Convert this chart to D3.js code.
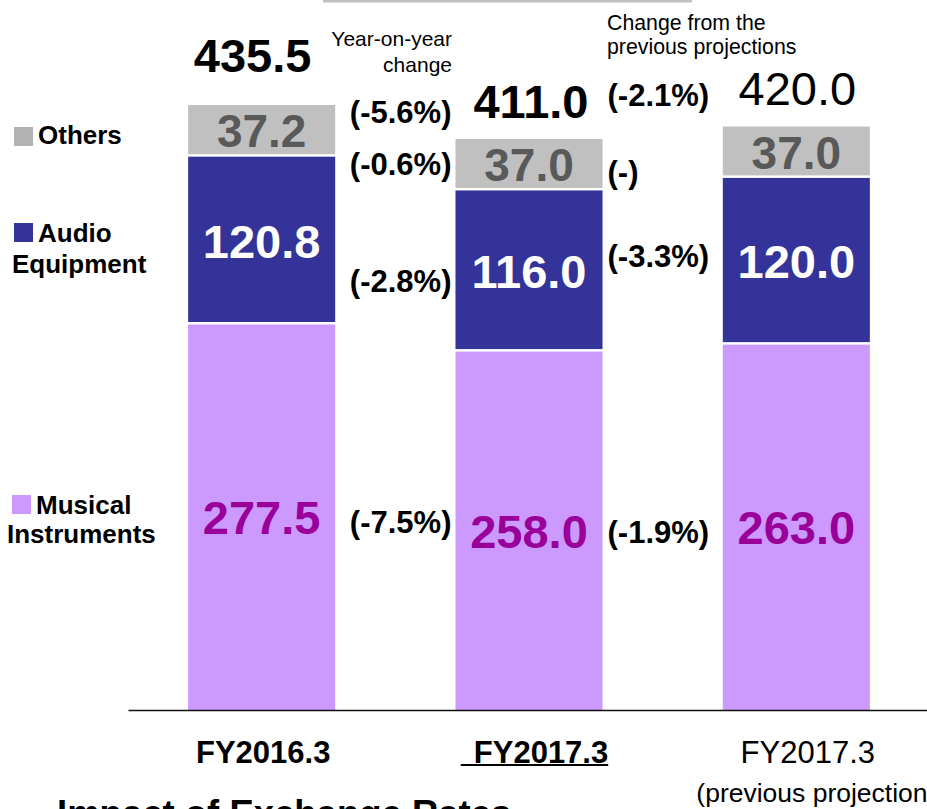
<!DOCTYPE html>
<meta charset="utf-8">
<style>
  body { margin: 0; background: #fff; }
  svg text { font-family: "Liberation Sans", Arial, sans-serif; }
</style>

<script src="https://d3js.org/d3.v7.min.js"></script>

<div id="my_dataviz"></div>

<script>
// ---- data ----
const categories = ["FY2016.3", "FY2017.3", "FY2017.3"];
const categoryNote = "(previous projections)";
const musicalValues = [277.5, 258.0, 263.0];
const audioValues = [120.8, 116.0, 120.0];
const otherValues = [37.2, 37.0, 37.0];
// change labels: musical, audio, others, total
const yoyChange = ["(-7.5%)", "(-2.8%)", "(-0.6%)", "(-5.6%)"];
const projChange = ["(-1.9%)", "(-3.3%)", "(-)", "(-2.1%)"];
const yoyTitle = ["Year-on-year", "change"];
const projTitle = ["Change from the", "previous projections"];
const legendLabels = [["Musical", "Instruments"], ["Audio", "Equipment"], ["Others"]];
const bottomTitle = "Impact of Exchange Rates";

// ---- layout ----
const width = 927, height = 809;
const keys = ["musical", "audio", "others"];
const fills = { musical: "#cc99ff", audio: "#333399", others: "#c0c0c0" };
const inkColors = { musical: "#990099", audio: "#ffffff", others: "#595959" };

const svg = d3.select("#my_dataviz")
  .append("svg")
    .attr("width", width)
    .attr("height", height);

const rows = categories.map((c, i) => ({
  idx: i, musical: musicalValues[i], audio: audioValues[i], others: otherValues[i]
}));
const totals = rows.map(r => r.musical + r.audio + r.others);
const stacked = d3.stack().keys(keys)(rows);

const x = d3.scaleBand()
  .domain(d3.range(categories.length))
  .range([128, 930])
  .paddingInner(0.45)
  .paddingOuter(0.225);

const y = d3.scaleLinear()
  .domain([0, d3.max(totals)])
  .range([710, 105]);

const cx = i => x(i) + x.bandwidth() / 2;

// faint line at the top (edge of the box above)
svg.append("rect")
  .attr("x", 323).attr("y", 0)
  .attr("width", 369).attr("height", 2.5)
  .attr("fill", "#c0c0c0");

// bars
svg.append("g")
  .selectAll("g")
  .data(stacked)
  .join("g")
    .attr("fill", d => fills[d.key])
  .selectAll("rect")
  .data(d => d)
  .join("rect")
    .attr("x", d => x(d.data.idx))
    .attr("y", d => y(d[1]))
    .attr("width", x.bandwidth())
    .attr("height", d => y(d[0]) - y(d[1]) - (d[0] > 0 ? 2.5 : 0));

// values inside segments
stacked.forEach(s => {
  svg.append("g").selectAll("text")
    .data(s)
    .join("text")
      .attr("x", d => cx(d.data.idx))
      .attr("y", d => (y(d[0]) + y(d[1])) / 2)
      .attr("dy", "0.36em")
      .attr("text-anchor", "middle")
      .attr("font-weight", "bold")
      .attr("font-size", s.key === "others" ? 46 : 47)
      .attr("fill", inkColors[s.key])
      .text(d => d.data[s.key].toFixed(1));
});

// totals above bars
const totalNudge = [[-9, -33], [2, -21], [1, -22]];
svg.append("g").selectAll("text")
  .data(totals)
  .join("text")
    .attr("x", (d, i) => cx(i) + totalNudge[i][0])
    .attr("y", (d, i) => y(d) + totalNudge[i][1])
    .attr("text-anchor", "middle")
    .attr("font-weight", (d, i) => i < 2 ? "bold" : "normal")
    .attr("font-size", 47)
    .attr("fill", "#000")
    .text(d => d.toFixed(1));

// change labels, placed against the middle bar's segments
const refY = keys.map((k, j) => {
  const d = stacked[j][1];
  return (y(d[0]) + y(d[1])) / 2;
}).concat([y(totals[1])]);
const yoyNudge = [-8.6, 10.2, -0.5, -26.8];
const projNudge = [1.4, -14.8, 7.5, -43.8];

svg.append("g").selectAll("text")
  .data(yoyChange)
  .join("text")
    .attr("x", x(1) - 4)
    .attr("y", (d, i) => refY[i] + yoyNudge[i])
    .attr("dy", "0.36em")
    .attr("text-anchor", "end")
    .attr("font-weight", "bold")
    .attr("font-size", 31)
    .text(d => d);

svg.append("g").selectAll("text")
  .data(projChange)
  .join("text")
    .attr("x", x(1) + x.bandwidth() + 5)
    .attr("y", (d, i) => refY[i] + projNudge[i])
    .attr("dy", "0.36em")
    .attr("text-anchor", "start")
    .attr("font-weight", "bold")
    .attr("font-size", 31)
    .text(d => d);

// column headers for the change labels
svg.append("g").selectAll("text")
  .data(yoyTitle)
  .join("text")
    .attr("x", 452)
    .attr("y", (d, i) => 46 + i * 26)
    .attr("text-anchor", "end")
    .attr("font-size", 21)
    .text(d => d);

svg.append("g").selectAll("text")
  .data(projTitle)
  .join("text")
    .attr("x", 607)
    .attr("y", (d, i) => 30 + i * 24)
    .attr("font-size", 21.3)
    .text(d => d);

// x axis (domain path = baseline)
const xAxis = d3.axisBottom(x)
  .tickSize(0)
  .tickSizeOuter(0)
  .tickPadding(31)
  .tickFormat(i => categories[i]);

const gx = svg.append("g")
  .attr("transform", "translate(0,710)")
  .call(xAxis);
gx.select(".domain").attr("stroke", "#111").attr("stroke-width", 1.5);
gx.selectAll(".tick text")
  .attr("font-family", "\"Liberation Sans\", Arial, sans-serif")
  .attr("font-size", 31)
  .attr("fill", "#000")
  .attr("font-weight", i => i < 2 ? "bold" : "normal")
  .attr("dx", i => [1.5, 12, 11.5][i]);

// underline under the current year label (with its leading space)
const t2 = gx.selectAll(".tick text").filter(i => i === 1);
const w2 = t2.node().getComputedTextLength();
gx.append("line")
  .attr("x1", cx(1) + 12 - w2 / 2 - 13)
  .attr("x2", cx(1) + 12 + w2 / 2)
  .attr("y1", 55).attr("y2", 55)
  .attr("stroke", "#000")
  .attr("stroke-width", 2);

svg.append("text")
  .attr("x", cx(2) - 100)
  .attr("y", 802)
  .attr("font-size", 26.5)
  .text(categoryNote);

// legend
const legendPos = [
  { sq: [12, 495], lines: [[36, 514], [7, 543]] },
  { sq: [14, 223], lines: [[38, 242], [12, 273]] },
  { sq: [14, 127], lines: [[38, 144]] }
];
keys.forEach((k, j) => {
  const p = legendPos[j];
  svg.append("rect")
    .attr("x", p.sq[0]).attr("y", p.sq[1])
    .attr("width", 19).attr("height", 19)
    .attr("fill", k === "others" ? "#b2b2b2" : fills[k]);
  legendLabels[j].forEach((txt, li) => {
    svg.append("text")
      .attr("x", p.lines[li][0])
      .attr("y", p.lines[li][1])
      .attr("font-weight", "bold")
      .attr("font-size", 26)
      .text(txt);
  });
});

// section title, cut by the bottom edge
svg.append("text")
  .attr("x", 57)
  .attr("y", 826)
  .attr("font-weight", "bold")
  .attr("font-size", 36.5)
  .text(bottomTitle);
</script>
